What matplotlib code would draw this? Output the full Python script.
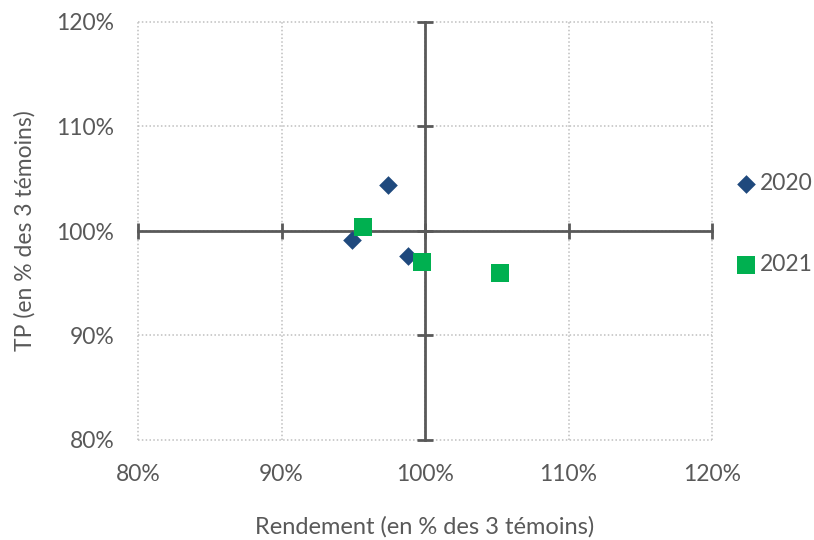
import matplotlib
matplotlib.use("Agg")
import matplotlib.pyplot as plt

x_2020 = [94.9, 97.4, 98.8]
y_2020 = [99.1, 104.4, 97.6]
x_2021 = [95.7, 99.8, 105.2]
y_2021 = [100.4, 97.0, 96.0]
ticks = [80, 90, 100, 110, 120]
tick_labels = ["80%", "90%", "100%", "110%", "120%"]
xlabel = "Rendement (en % des 3 témoins)"
ylabel = "TP (en % des 3 témoins)"

plt.rcParams['font.family'] = ['Lato', 'DejaVu Sans']
txt = "#595959"
fs = 16.5

fig = plt.figure(figsize=(8.14, 5.4), dpi=100)
pos = [138/814, 100/540, (712-138)/814, (440-22)/540]
ax = fig.add_axes(pos)
ax.set_xlim(80, 120)
ax.set_ylim(80, 120)
ax.set_xticks(ticks)
ax.set_xticklabels(tick_labels)
ax.set_yticks(ticks)
ax.set_yticklabels(tick_labels)
for s in ax.spines.values():
    s.set_visible(False)
ax.tick_params(length=0, labelsize=fs, labelcolor=txt)
ax.tick_params(axis='y', pad=17)
ax.tick_params(axis='x', pad=17)
ax.grid(True, color="#BFBFBF", linestyle=(0, (1, 1.5)), linewidth=1.1)
ax.set_xlabel(xlabel, fontsize=17, color=txt, labelpad=23)
ax.set_ylabel(ylabel, fontsize=fs, color=txt, labelpad=15)
for gl in ax.get_xgridlines() + ax.get_ygridlines():
    gl.set_clip_on(False)

ax2 = fig.add_axes(pos, sharex=ax, sharey=ax)
ax2.patch.set_visible(False)
ax2.spines['top'].set_visible(False)
ax2.spines['right'].set_visible(False)
ax2.spines['left'].set_position(('data', 100))
ax2.spines['bottom'].set_position(('data', 100))
for k in ('left', 'bottom'):
    ax2.spines[k].set_color("#595959")
    ax2.spines[k].set_linewidth(2)
ax2.tick_params(direction='inout', length=11, width=2, color="#595959",
                labelleft=False, labelbottom=False)

ax2.scatter(x_2020, y_2020, marker='D', s=9.5**2, color="#1F497D", zorder=5,
            label="2020", linewidths=0)
ax2.scatter(x_2021, y_2021, marker='s', s=12.5**2, color="#00B050", zorder=5,
            label="2021", linewidths=0)

leg = fig.legend(loc='upper left', bbox_to_anchor=(735/814, 1 - 173/540),
                 frameon=False, fontsize=fs, labelspacing=2.6,
                 handletextpad=0.1, handlelength=1.0, borderaxespad=0,
                 borderpad=0)
for t in leg.get_texts():
    t.set_color(txt)

fig.savefig("out.png", dpi=100)
